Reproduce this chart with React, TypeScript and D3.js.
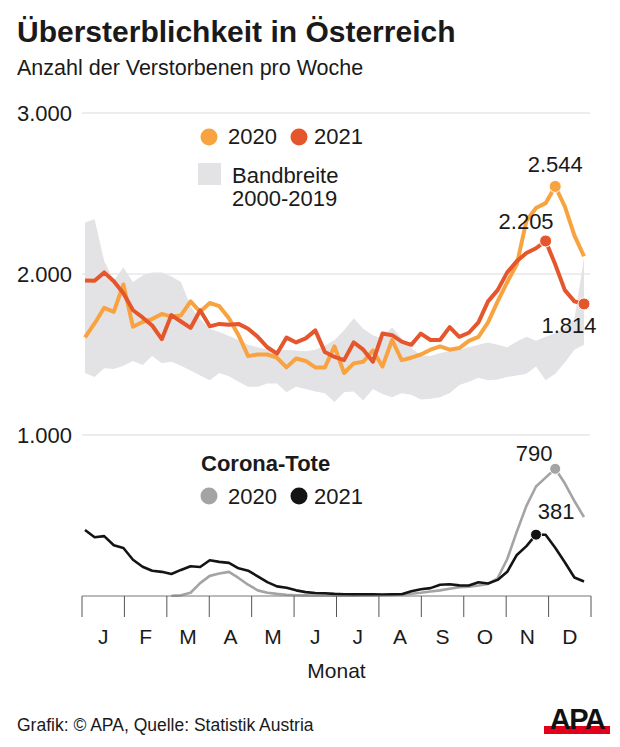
import * as d3 from 'd3'

// weekly deaths in Austria, week 1..53
const deaths2020 = [
  1607, 1693, 1790, 1765, 1935, 1672, 1702, 1720, 1752, 1735,
  1743, 1830, 1765, 1820, 1800, 1725, 1620, 1490, 1500, 1500,
  1480, 1420, 1475, 1460, 1420, 1420, 1550, 1385, 1445, 1455,
  1525, 1425, 1590, 1465, 1480, 1500, 1530, 1550, 1530, 1540,
  1585, 1610, 1700, 1830, 1950, 2060, 2330, 2410, 2440, 2544,
  2420, 2240, 2110,
]
const deaths2021 = [
  1960, 1958, 2010, 1955, 1880, 1775, 1730, 1680, 1595, 1745,
  1705, 1665, 1775, 1675, 1690, 1685, 1690, 1660, 1610, 1545,
  1505, 1605, 1575, 1600, 1650, 1515, 1485, 1465, 1575, 1530,
  1455, 1630, 1620, 1580, 1560, 1630, 1590, 1590, 1670, 1610,
  1635, 1700, 1830, 1900, 2010, 2080, 2130, 2160, 2205, 2060,
  1900, 1830, 1814,
]
// Bandbreite 2000-2019 (max / min)
const bandHigh = [
  2320, 2340, 2080, 1960, 2040, 1950, 1990, 2010, 2010, 1985,
  1950, 1800, 1720, 1660, 1640, 1615, 1590, 1560, 1545, 1530,
  1525, 1530, 1525, 1520, 1530, 1555, 1590, 1650, 1725, 1660,
  1620, 1600, 1670, 1600, 1540, 1495, 1490, 1510, 1520, 1530,
  1545, 1560, 1575, 1560, 1545, 1580, 1610, 1585, 1610, 1630,
  1665, 1720, 2100,
]
const bandLow = [
  1385, 1360, 1415, 1410, 1430, 1460, 1435, 1490, 1445, 1455,
  1430, 1400, 1370, 1340, 1385, 1365, 1330, 1300, 1300, 1320,
  1320, 1265, 1300, 1285, 1270, 1260, 1205, 1265, 1270, 1215,
  1285, 1255, 1235, 1260, 1250, 1220, 1225, 1235, 1260, 1310,
  1330, 1355, 1340, 1345, 1360, 1370, 1380, 1425, 1340, 1380,
  1450, 1530, 1560,
]
// Corona-Tote pro Woche
const corona2020 = [
  null, null, null, null, null, null, null, null, null, 2,
  4, 20, 80, 125, 140, 150, 112, 70, 35, 20,
  13, 8, 5, 4, 3, 3, 2, 2, 2, 3,
  4, 5, 7, 10, 14, 20, 28, 35, 45, 55,
  58, 65, 75, 110, 230, 400, 560, 680, 735, 790,
  700, 590, 490,
]
const corona2021 = [
  410, 365, 372, 315, 298, 225, 182, 157, 150, 137,
  162, 185, 180, 222, 212, 206, 172, 157, 122, 86,
  60, 51, 35, 24, 19, 17, 13, 11, 10, 10,
  10, 9, 10, 11, 30, 42, 49, 70, 73, 66,
  65, 85, 78, 100, 150, 255, 310, 381, 380, 300,
  210, 115, 90,
]

const months = ['J', 'F', 'M', 'A', 'M', 'J', 'J', 'A', 'S', 'O', 'N', 'D']
const yTicks = [1000, 2000, 3000]

const W = 620
const H = 747
const FONT = '"Liberation Sans", Arial, Helvetica, sans-serif'
const ORANGE = '#F8A33F'
const RED = '#E5562C'
const BAND = '#E3E3E6'
const GREY = '#A4A4A4'
const BLACK = '#141414'

const de = d3.formatLocale({ decimal: ',', thousands: '.', grouping: [3], currency: ['', ' €'] })
const fmt = de.format(',')

const App = () => {
  const left = 82
  const right = 591
  const base = 596

  const x = d3.scaleLinear().domain([0, deaths2020.length - 1]).range([85, 584])
  const y = d3.scaleLinear().domain([0, 3000]).range([base, 113])
  const monthX = d3.scaleBand().domain(d3.range(12).map(String)).range([left, right])

  const line = d3.line<number>().x((d, i) => x(i)).y(d => y(d))
  const nLine = d3.line<number | null>()
    .defined(d => d !== null)
    .x((d, i) => x(i))
    .y(d => y(d as number))
  const band = d3.area<number>()
    .x((d, i) => x(i))
    .y0((d, i) => y(bandLow[i]))
    .y1(d => y(d))

  // autumn wave peaks (second half of the year)
  const half = 26
  const i20 = d3.maxIndex(deaths2020)
  const i21 = half + d3.maxIndex(deaths2021.slice(half))
  const iLast = deaths2021.length - 1
  const c20 = half + d3.maxIndex(corona2020.slice(half), d => d ?? 0)
  const c21 = half + d3.maxIndex(corona2021.slice(half))

  const txt = { fontFamily: FONT, fill: '#1a1a1a' }

  return (
    <svg width={W} height={H} style={{ position: 'absolute', left: 0, top: 0, background: '#fff' }}>
      <text x={17} y={42} style={txt} fontSize={30} fontWeight="bold">Übersterblichkeit in Österreich</text>
      <text x={17} y={75} style={txt} fontSize={21.5}>Anzahl der Verstorbenen pro Woche</text>

      {yTicks.map(t => (
        <g key={t}>
          <line x1={left} x2={590} y1={y(t)} y2={y(t)} stroke="#dcdcdc" strokeWidth={1.2} />
          <text x={72} y={y(t) + 8} textAnchor="end" style={txt} fontSize={22}>{fmt(t)}</text>
        </g>
      ))}

      <path d={band(bandHigh) ?? ''} fill={BAND} />

      {/* legend top */}
      <circle cx={209} cy={137} r={8.5} fill={ORANGE} />
      <text x={228} y={144} style={txt} fontSize={22}>2020</text>
      <circle cx={299} cy={137} r={8.5} fill={RED} />
      <text x={314} y={144} style={txt} fontSize={22}>2021</text>
      <rect x={198} y={163} width={23} height={22} fill={BAND} />
      <text x={232} y={183} style={txt} fontSize={22}>Bandbreite</text>
      <text x={232} y={206} style={txt} fontSize={22}>2000-2019</text>

      <path d={line(deaths2020) ?? ''} fill="none" stroke={ORANGE} strokeWidth={4} strokeLinejoin="round" />
      <path d={line(deaths2021) ?? ''} fill="none" stroke={RED} strokeWidth={4} strokeLinejoin="round" />

      <circle cx={x(i20)} cy={y(deaths2020[i20])} r={6} fill={ORANGE} stroke="#fff" strokeWidth={1} />
      <text x={x(i20)} y={y(deaths2020[i20]) - 14} textAnchor="middle" style={txt} fontSize={22}>{fmt(deaths2020[i20])}</text>
      <circle cx={x(i21)} cy={y(deaths2021[i21])} r={6} fill={RED} stroke="#fff" strokeWidth={1} />
      <text x={x(i21) + 8} y={y(deaths2021[i21]) - 12} textAnchor="end" style={txt} fontSize={22}>{fmt(deaths2021[i21])}</text>
      <circle cx={x(iLast)} cy={y(deaths2021[iLast])} r={6} fill={RED} stroke="#fff" strokeWidth={1} />
      <text x={x(iLast) - 15} y={y(deaths2021[iLast]) + 29} textAnchor="middle" style={txt} fontSize={22}>{fmt(deaths2021[iLast])}</text>

      {/* corona */}
      <text x={201} y={471} style={txt} fontSize={22} fontWeight="bold">Corona-Tote</text>
      <circle cx={209} cy={496} r={8.5} fill={GREY} />
      <text x={228} y={504} style={txt} fontSize={22}>2020</text>
      <circle cx={299} cy={496} r={8.5} fill={BLACK} />
      <text x={314} y={504} style={txt} fontSize={22}>2021</text>

      <path d={nLine(corona2020) ?? ''} fill="none" stroke={GREY} strokeWidth={2.6} strokeLinejoin="round" />
      <path d={line(corona2021) ?? ''} fill="none" stroke={BLACK} strokeWidth={2.6} strokeLinejoin="round" />
      <circle cx={x(c20)} cy={y(corona2020[c20] as number)} r={5.5} fill={GREY} stroke="#fff" strokeWidth={1} />
      <text x={x(c20) - 21} y={y(corona2020[c20] as number) - 8} textAnchor="middle" style={txt} fontSize={22}>{fmt(corona2020[c20] as number)}</text>
      <circle cx={x(c21)} cy={y(corona2021[c21])} r={5.5} fill={BLACK} stroke="#fff" strokeWidth={1} />
      <text x={x(c21) + 20} y={y(corona2021[c21]) - 16} textAnchor="middle" style={txt} fontSize={22}>{fmt(corona2021[c21])}</text>

      {/* x axis */}
      <line x1={left} x2={right} y1={base} y2={base} stroke="#777" strokeWidth={1} />
      {d3.range(13).map(k => {
        const tx = left + (k * (right - left)) / 12
        return <line key={k} x1={tx} x2={tx} y1={base} y2={base + 21} stroke="#555" strokeWidth={1} />
      })}
      {months.map((m, k) => (
        <text key={k} x={(monthX(String(k)) ?? 0) + monthX.bandwidth() / 2} y={644} textAnchor="middle" style={txt} fontSize={21}>{m}</text>
      ))}
      <text x={(left + right) / 2} y={678} textAnchor="middle" style={txt} fontSize={21}>Monat</text>

      <text x={17} y={731} style={txt} fontSize={17.5}>Grafik: © APA, Quelle: Statistik Austria</text>
      <rect x={544} y={726} width={66} height={8} fill="#E3001B" />
      <text x={577} y={729} textAnchor="middle" fontFamily={FONT} fontWeight={900} fontSize={29} fill="#111" letterSpacing={-1.5}>APA</text>
    </svg>
  )
}

export default App
